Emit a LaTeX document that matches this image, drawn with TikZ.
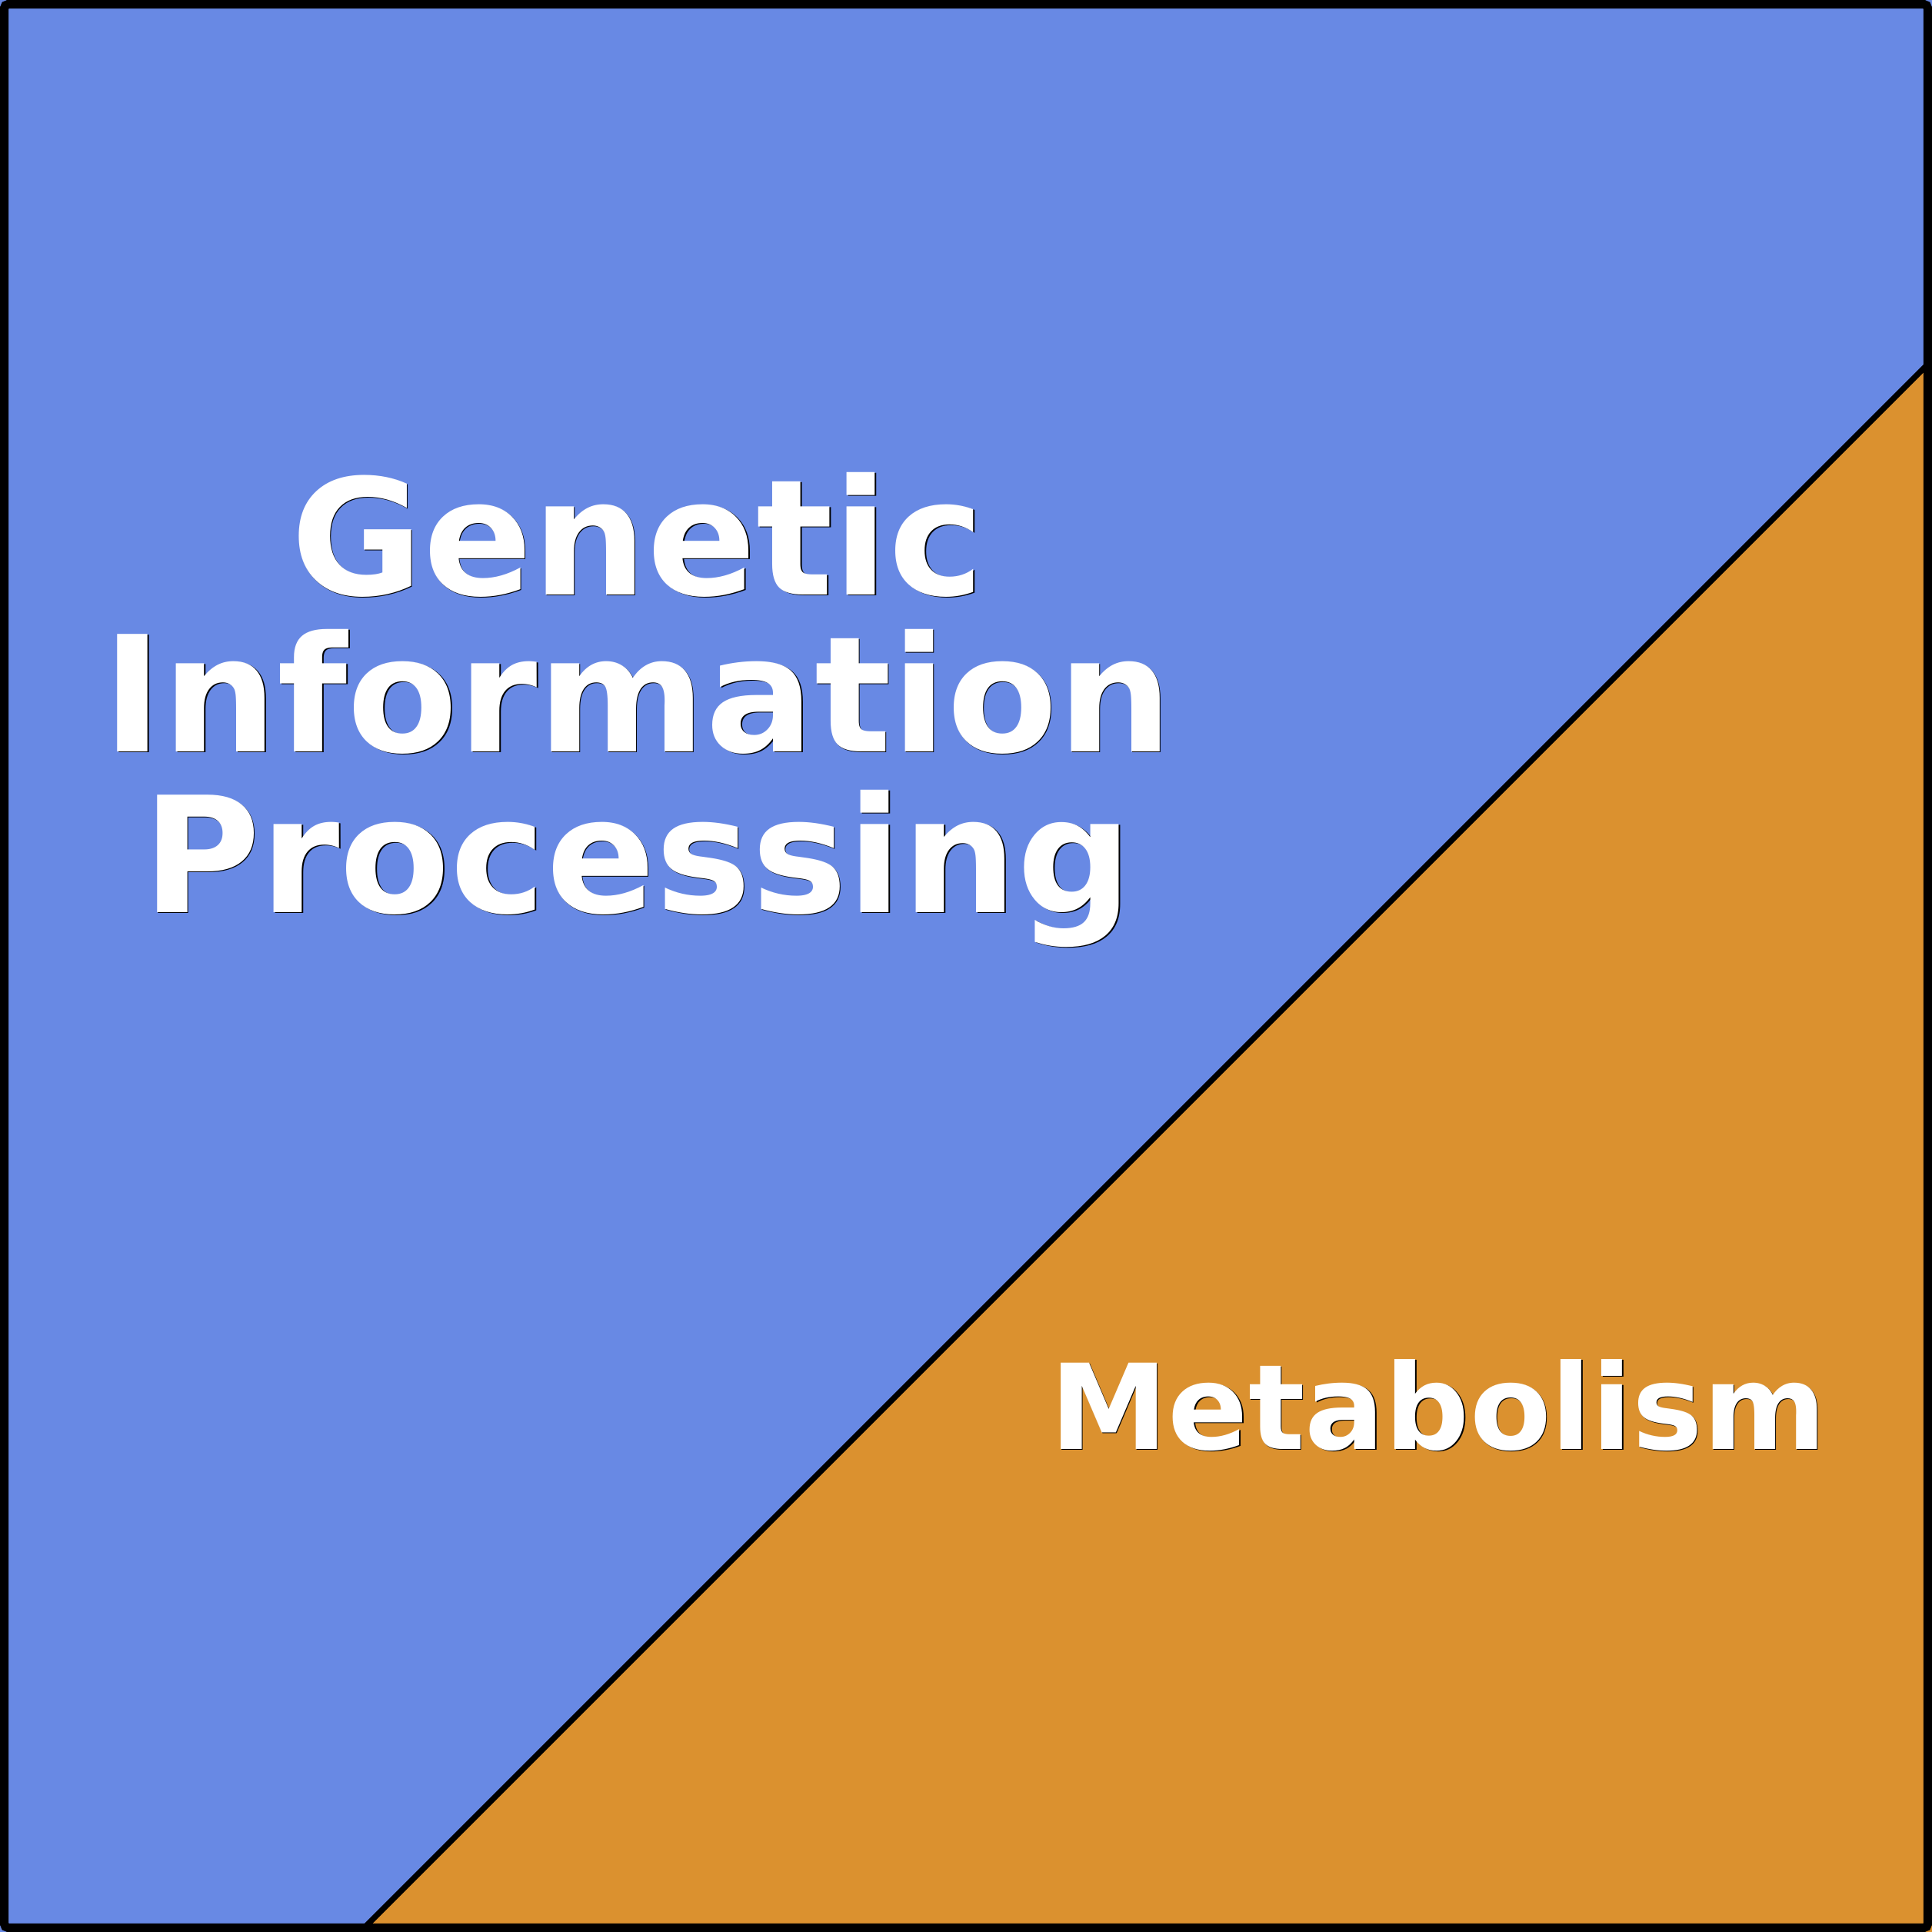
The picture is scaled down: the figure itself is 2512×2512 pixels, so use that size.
\documentclass[tikz,border=0pt]{standalone}
\usepackage{fontspec}
\setmainfont{DejaVu Sans}
\definecolor{gipblue}{HTML}{6889E4}
\definecolor{metorange}{HTML}{DB912F}
\begin{document}
\begin{tikzpicture}[x=0.01cm,y=-0.01cm,
  bigtxt/.style={font=\bfseries\fontsize{59.6pt}{59.6pt}\selectfont, inner sep=0pt, anchor=base},
  medtxt/.style={font=\bfseries\fontsize{43.8pt}{43.8pt}\selectfont, inner sep=0pt, anchor=base},
  shadowtxt/.style={text=black},
  frontxt/.style={text=white}]
\useasboundingbox (0,0) rectangle (2512,2512);
% regions
\fill[gipblue] (0,0) -- (2512,0) -- (2512,468) -- (468,2512) -- (0,2512) -- cycle;
\fill[metorange] (2512,468) -- (2512,2512) -- (468,2512) -- cycle;
% diagonal divider
\begin{scope}
\clip (0,0) rectangle (2512,2512);
\coordinate (dA) at (2512,468);
\coordinate (dB) at (468,2512);
\draw[line width=2.1pt] (dA) -- (dB);
\end{scope}
% outer border
\draw[line width=3.2pt, rounded corners=1.5pt] (5.5,5.5) rectangle (2506.5,2506.5);
% texts: thin dark shadow then white text
\foreach \nm/\txt/\yy in {g/Genetic/773, i/Information/977, p/Processing/1186}{
  \node[bigtxt,shadowtxt] (\nm s) at (830.5,\yy+1.5) {\txt};
  \node[bigtxt,frontxt] (\nm) at (829,\yy) {\txt};
}
\node[medtxt,shadowtxt] (ms) at (1871.5,1885.5) {Metabolism};
\node[medtxt,frontxt] (m) at (1870,1884) {Metabolism};
\end{tikzpicture}
\end{document}
